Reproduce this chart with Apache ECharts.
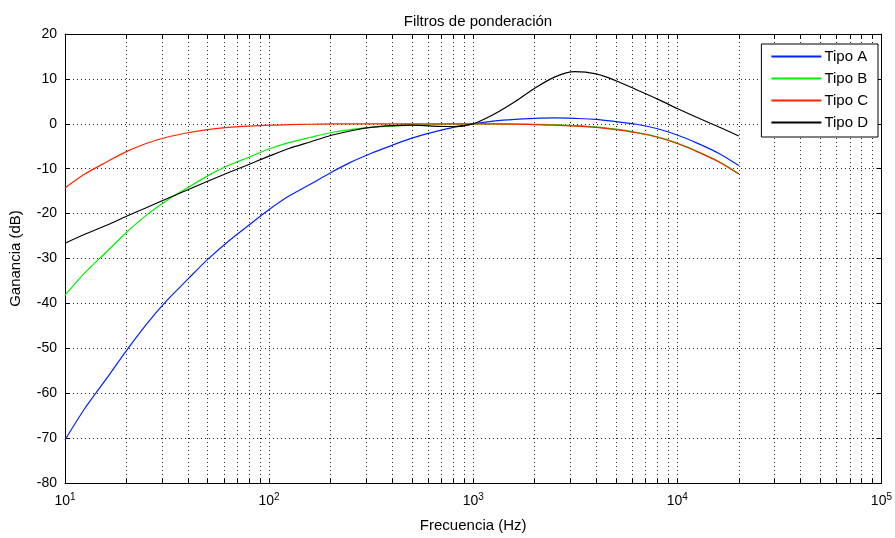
<!DOCTYPE html>
<html>
<head>
<meta charset="utf-8">
<script src="https://cdn.jsdelivr.net/npm/echarts@6/dist/echarts.min.js"></script>
<style>
html,body{margin:0;padding:0;background:#fff;}
#main{width:895px;height:538px;}
</style>
</head>
<body>
<div id="main"></div>
<script>
// frecuencias (tercios de octava) y ganancias
var freqs = [10,12.5,16,20,25,31.5,40,50,63,80,100,125,160,200,250,315,400,500,630,800,
             1000,1250,1600,2000,2500,3150,4000,5000,6300,8000,10000,12500,16000,20000];
var tipoA = [-70.4,-63.4,-56.7,-50.5,-44.7,-39.4,-34.6,-30.2,-26.2,-22.5,-19.1,-16.1,-13.4,-10.9,-8.6,-6.6,-4.8,-3.2,-1.9,-0.8,
             0,0.6,1.0,1.2,1.3,1.2,1.0,0.5,-0.1,-1.1,-2.5,-4.3,-6.6,-9.3];
var tipoB = [-38.2,-33.2,-28.5,-24.2,-20.4,-17.1,-14.2,-11.6,-9.3,-7.4,-5.6,-4.2,-3.0,-2.0,-1.3,-0.8,-0.5,-0.3,-0.1,0,
             0,0,0,-0.1,-0.2,-0.4,-0.7,-1.2,-1.9,-2.9,-4.3,-6.1,-8.4,-11.1];
var tipoC = [-14.3,-11.2,-8.5,-6.2,-4.4,-3.0,-2.0,-1.3,-0.8,-0.5,-0.3,-0.2,-0.1,0,0,0,0,0,0,0,
             0,0,-0.1,-0.2,-0.3,-0.5,-0.8,-1.3,-2.0,-3.0,-4.4,-6.2,-8.5,-11.2];
var tipoD = [-26.6,-24.6,-22.6,-20.6,-18.7,-16.7,-14.7,-12.8,-10.9,-9.0,-7.2,-5.5,-4.0,-2.6,-1.6,-0.8,-0.4,-0.3,-0.5,-0.6,
             0,2.0,4.9,7.9,10.4,11.6,11.1,9.6,7.6,5.5,3.4,1.4,-0.7,-2.7];

// marcas del eje x (log)
var xTicks = [];
for (var d = 10; d < 100000; d *= 10) {
    for (var k = 1; k < 10; k++) { xTicks.push(d * k); }
}
xTicks.push(100000);
var xLabels = [10,100,1000,10000,100000];

var pares = function(vals){
    var out = [];
    for (var i = 0; i < freqs.length; i++) { out.push([freqs[i], vals[i]]); }
    return out;
};

var fuente = '"Liberation Sans", Arial, sans-serif';
var puntos = { show: true, lineStyle: { color: '#222', width: 1, type: [1, 3] } };

var chart = echarts.init(document.getElementById('main'));
var option = {
    animation: false,
    backgroundColor: '#fff',
    title: {
        text: 'Filtros de ponderación',
        left: 473, top: 9, textAlign: 'center',
        textStyle: { fontFamily: fuente, fontSize: 15, fontWeight: 'normal', color: '#000' }
    },
    legend: {
        orient: 'vertical',
        right: 17, top: 44,
        backgroundColor: '#fff',
        borderColor: '#000', borderWidth: 1, borderRadius: 0,
        padding: [5, 10, 7, 9],
        itemWidth: 50, itemHeight: 15, itemGap: 7,
        itemStyle: { opacity: 0 },
        textStyle: { fontFamily: fuente, fontSize: 15, color: '#000', padding: [0, 0, 0, -2] },
        data: ['Tipo A', 'Tipo B', 'Tipo C', 'Tipo D']
    },
    grid: { left: 65, right: 13, top: 34, bottom: 55 },
    xAxis: [{
        type: 'log', logBase: 10, min: 10, max: 100000,
        name: 'Frecuencia (Hz)', nameLocation: 'middle', nameGap: 35,
        nameTextStyle: { fontFamily: fuente, fontSize: 15, color: '#000' },
        axisLine: { onZero: false, lineStyle: { color: '#000', width: 1 } },
        axisTick: { inside: true, length: 4, customValues: xTicks, lineStyle: { color: '#000' } },
        axisLabel: {
            customValues: xLabels,
            margin: 9,
            fontFamily: fuente, fontSize: 14, color: '#000',
            formatter: function(v){ return '10{sup|' + Math.round(Math.log10(v)) + '}'; },
            rich: { sup: { fontFamily: fuente, fontSize: 10, color: '#000', verticalAlign: 'top', padding: [0, 0, 8, 0] } }
        },
        splitLine: puntos
    }, {
        type: 'log', logBase: 10, min: 10, max: 100000, position: 'top',
        axisLine: { onZero: false, lineStyle: { color: '#000', width: 1 } },
        axisTick: { inside: true, length: 4, customValues: xTicks, lineStyle: { color: '#000' } },
        axisLabel: { show: false },
        splitLine: { show: false }
    }],
    yAxis: [{
        type: 'value', min: -80, max: 20, interval: 10,
        name: 'Ganancia (dB)', nameLocation: 'middle', nameGap: 42,
        nameTextStyle: { fontFamily: fuente, fontSize: 15, color: '#000' },
        axisLine: { show: true, onZero: false, lineStyle: { color: '#000', width: 1 } },
        axisTick: { show: true, inside: true, length: 5, lineStyle: { color: '#000' } },
        axisLabel: { fontFamily: fuente, fontSize: 14, color: '#000', margin: 8 },
        splitLine: puntos
    }, {
        type: 'value', min: -80, max: 20, interval: 10, position: 'right',
        axisLine: { show: true, onZero: false, lineStyle: { color: '#000', width: 1 } },
        axisTick: { show: true, inside: true, length: 5, lineStyle: { color: '#000' } },
        axisLabel: { show: false },
        splitLine: { show: false }
    }],
    series: [
        { name: 'Tipo A', type: 'line', data: pares(tipoA), symbol: 'none', smooth: 0.3, color: '#0022ff', lineStyle: { width: 1.2 } },
        { name: 'Tipo B', type: 'line', data: pares(tipoB), symbol: 'none', smooth: 0.3, color: '#00ee00', lineStyle: { width: 1.2 } },
        { name: 'Tipo C', type: 'line', data: pares(tipoC), symbol: 'none', smooth: 0.3, color: '#ff2200', lineStyle: { width: 1.2 } },
        { name: 'Tipo D', type: 'line', data: pares(tipoD), symbol: 'none', smooth: 0.3, color: '#000000', lineStyle: { width: 1.2 } }
    ]
};
chart.setOption(option);
</script>
</body>
</html>
